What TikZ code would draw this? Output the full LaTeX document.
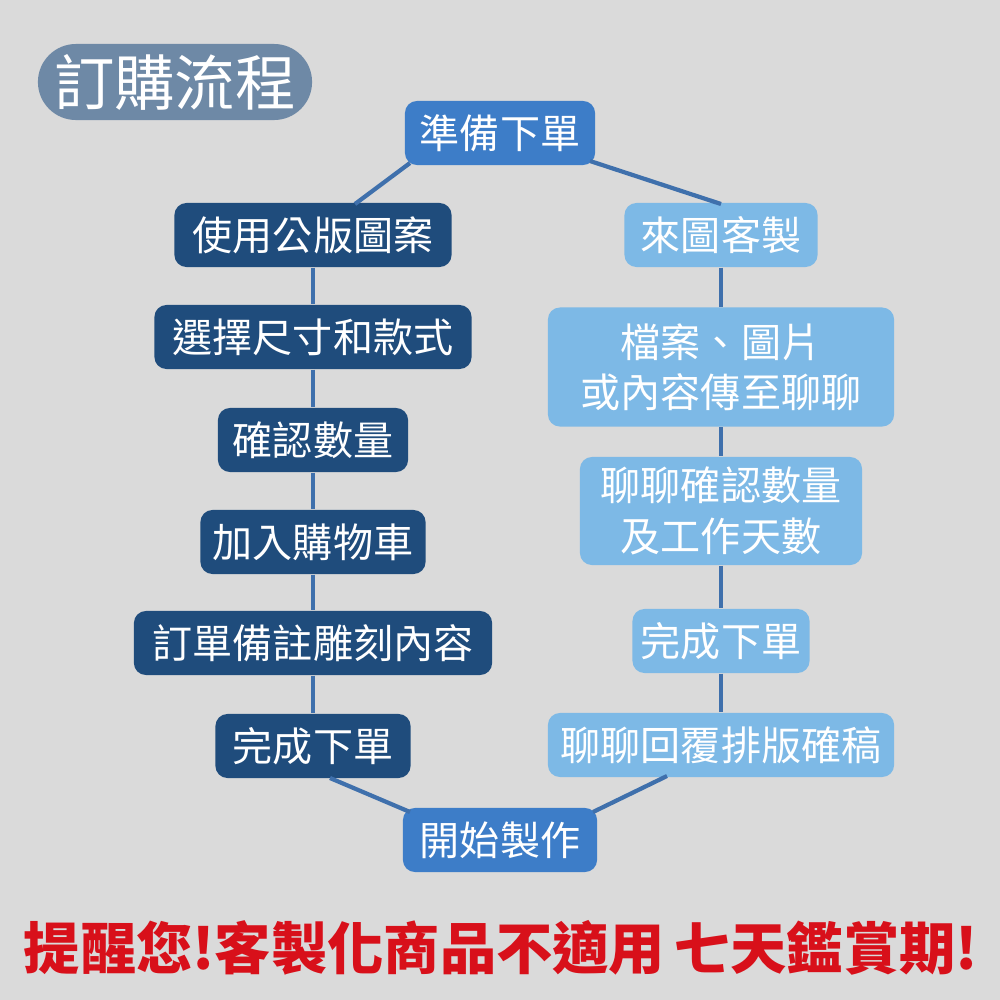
\documentclass[tikz,border=0pt]{standalone}
\usepackage{fontspec}
\newfontfamily\cjk{Noto Sans CJK TC}
\definecolor{bgc}{HTML}{DADADA}
\definecolor{navy}{HTML}{1F4C7C}
\definecolor{midblue}{HTML}{3D7DC8}
\definecolor{lightblue}{HTML}{7DB9E6}
\definecolor{titlec}{HTML}{6E89A6}
\definecolor{linec}{HTML}{3F70AC}
\definecolor{warnred}{HTML}{D8101A}
\begin{document}
\begin{tikzpicture}[x=0.01cm,y=-0.01cm,
  box/.style={rounded corners=0.12cm, text=white, font=\cjk\fontsize{11.4}{14.3}\selectfont,
    inner xsep=0pt, inner ysep=0pt, minimum height=0.64cm, align=center},
  leftbox/.style={box, fill=navy},
  rightbox/.style={box, fill=lightblue},
  endbox/.style={box, fill=midblue},
  conn/.style={draw=linec, line width=1.2pt}]
\fill[bgc] (0,0) rectangle (1000,1000);
\useasboundingbox (0,0) rectangle (1000,1000);

% title
\node[fill=titlec, rounded corners=0.38cm, minimum width=2.74cm, minimum height=0.76cm,
  inner sep=0pt, text=white, font=\cjk\fontsize{17.2}{20}\selectfont] (title) at (175,82) {訂購流程};

% free ends of the diagonal connectors
\coordinate (tl) at (410,163);
\coordinate (tle) at (355,204);
\coordinate (tr) at (590,161);
\coordinate (tre) at (721,204);
\coordinate (bl) at (330,778);
\coordinate (ble) at (410,812);
\coordinate (br) at (667,776);
\coordinate (bre) at (593,812);

\node[endbox, minimum width=1.90cm] (start) at (500,133) {準備下單};
\node[leftbox, minimum width=2.77cm] (l1) at (313,235) {使用公版圖案};
\node[rightbox, minimum width=1.93cm] (r1) at (721,235) {來圖客製};
\node[leftbox, minimum width=3.17cm] (l2) at (313,337) {選擇尺寸和款式};
\node[rightbox, minimum width=3.46cm, minimum height=1.19cm] (r2) at (721,367) {檔案、圖片\\或內容傳至聊聊};
\node[leftbox, minimum width=1.90cm] (l3) at (313,440) {確認數量};
\node[rightbox, minimum width=2.82cm, minimum height=1.08cm] (r3) at (721,511) {聊聊確認數量\\及工作天數};
\node[leftbox, minimum width=2.25cm] (l4) at (313,542) {加入購物車};
\node[leftbox, minimum width=3.58cm] (l5) at (313,643) {訂單備註雕刻內容};
\node[rightbox, minimum width=1.77cm] (r4) at (721,641) {完成下單};
\node[leftbox, minimum width=1.95cm] (l6) at (313,746) {完成下單};
\node[rightbox, minimum width=3.46cm] (r5) at (721,745) {聊聊回覆排版確稿};
\node[endbox, minimum width=1.94cm] (finish) at (500,840) {開始製作};

% connectors
\draw[conn] (tl) -- (tle);
\draw[conn] (tr) -- (tre);
\draw[conn] (l1) -- (l2);
\draw[conn] (l2) -- (l3);
\draw[conn] (l3) -- (l4);
\draw[conn] (l4) -- (l5);
\draw[conn] (l5) -- (l6);
\draw[conn] (r1) -- (r2);
\draw[conn] (r2) -- (r3);
\draw[conn] (r3) -- (r4);
\draw[conn] (r4) -- (r5);
\draw[conn] (bl) -- (ble);
\draw[conn] (br) -- (bre);

% warning
\node[text=warnred, font=\cjk\bfseries\fontsize{16}{19}\selectfont, inner sep=0pt] (warn) at (501,948)
  {提醒您!客製化商品不適用\,七天鑑賞期!};
\end{tikzpicture}
\end{document}
